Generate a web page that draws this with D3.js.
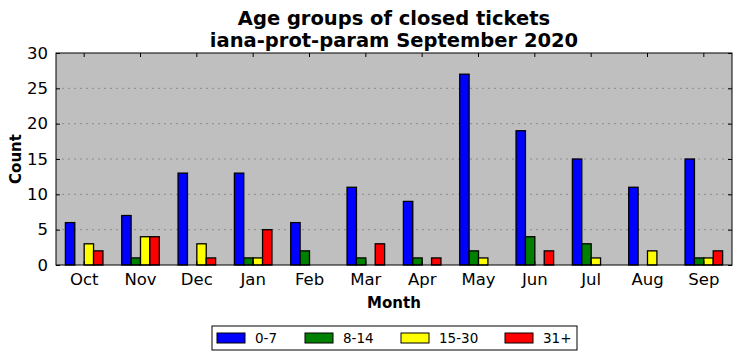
<!DOCTYPE html>
<html>
<head>
<meta charset="utf-8">
<script src="https://cdn.jsdelivr.net/npm/d3@7"></script>
<style>
body{margin:0;background:#fff;font-family:"DejaVu Sans",sans-serif;}
</style>
</head>
<body>
<script>
var months = ['Oct','Nov','Dec','Jan','Feb','Mar','Apr','May','Jun','Jul','Aug','Sep'];
var groups = ['0-7','8-14','15-30','31+'];
var colors = ['#0000ff','#008000','#ffff00','#ff0000'];
var age0_7   = [6,7,13,13,6,11,9,27,19,15,11,15];
var age8_14  = [0,1,0,1,2,1,1,2,4,3,0,1];
var age15_30 = [3,4,3,1,0,0,0,1,0,1,2,1];
var age31    = [2,4,1,5,0,3,1,0,2,0,0,2];
var series = [age0_7,age8_14,age15_30,age31];
var yTicks = [0,5,10,15,20,25,30];

var width = 742, height = 361,
	margin = {left:56,top:53,right:10,bottom:96},
	g_width = width - margin.left - margin.right,
	g_height = height - margin.top - margin.bottom;

var svg = d3.select('body').append('svg')
	.attr('width',width).attr('height',height);

// 标题
svg.append('text').attr('x',margin.left+g_width/2).attr('y',25)
	.attr('text-anchor','middle').attr('font-size','19.5px').attr('font-weight','bold')
	.text('Age groups of closed tickets');
svg.append('text').attr('x',margin.left+g_width/2).attr('y',47)
	.attr('text-anchor','middle').attr('font-size','19.5px').attr('font-weight','bold')
	.text('iana-prot-param September 2020');

var g = svg.append('g').attr('transform','translate('+margin.left+','+margin.top+')');

var scale_x = d3.scaleBand().domain(months).range([0,g_width]).padding(0);
var scale_y = d3.scaleLinear().domain([0,30]).range([g_height,0]);
var bw = scale_x.bandwidth()/6;

g.append('rect').attr('width',g_width).attr('height',g_height).attr('fill','#bfbfbf');

// 网格线
g.selectAll('.grid').data(yTicks.slice(1,-1)).enter().append('line')
	.attr('x1',0).attr('x2',g_width)
	.attr('y1',function(d){return scale_y(d);}).attr('y2',function(d){return scale_y(d);})
	.attr('stroke','#8c8c8c').attr('stroke-width',1).attr('stroke-dasharray','2,4');

// 柱子
series.forEach(function(vals,k){
	g.selectAll('.bar'+k).data(vals).enter().append('rect')
		.attr('x',function(d,i){return scale_x(months[i])+scale_x.bandwidth()/2+(k-2)*bw;})
		.attr('y',function(d){return scale_y(d);})
		.attr('width',bw)
		.attr('height',function(d){return g_height-scale_y(d);})
		.attr('fill',colors[k]).attr('stroke','#000').attr('stroke-width',1.3);
});

// 坐标轴
var x_axis = d3.axisBottom(scale_x).tickSizeInner(-4).tickSizeOuter(0).tickPadding(8);
var y_axis = d3.axisLeft(scale_y).tickValues(yTicks).tickSizeInner(-4).tickSizeOuter(0).tickPadding(8);
var gx = g.append('g').attr('transform','translate(0,'+g_height+')').call(x_axis);
var gy = g.append('g').call(y_axis);
var gx2 = g.append('g').call(d3.axisTop(scale_x).tickSizeInner(-4).tickSizeOuter(0).tickFormat(''));
var gy2 = g.append('g').attr('transform','translate('+g_width+',0)').call(d3.axisRight(scale_y).tickValues(yTicks).tickSizeInner(-4).tickSizeOuter(0).tickFormat(''));
[gx,gy,gx2,gy2].forEach(function(a){
	a.select('.domain').remove();
	a.selectAll('text').attr('font-size','16.5px').attr('font-family','DejaVu Sans').attr('fill','#000');
});
g.append('rect').attr('width',g_width).attr('height',g_height)
	.attr('fill','none').attr('stroke','#000').attr('stroke-width',1);

// 轴标题
svg.append('text').attr('x',margin.left+g_width/2).attr('y',308)
	.attr('text-anchor','middle').attr('font-size','15px').attr('font-weight','bold').text('Month');
svg.append('text').attr('transform','translate(21,'+(margin.top+g_height/2)+') rotate(-90)')
	.attr('text-anchor','middle').attr('font-size','15px').attr('font-weight','bold').text('Count');

// 图例
var lg = svg.append('g').attr('transform','translate(212,326)');
lg.append('rect').attr('width',365).attr('height',24).attr('fill','#fff').attr('stroke','#000').attr('stroke-width',1);
var lx = [5,93,189,293];
groups.forEach(function(name,k){
	lg.append('rect').attr('x',lx[k]).attr('y',7).attr('width',28).attr('height',10)
		.attr('fill',colors[k]).attr('stroke','#000').attr('stroke-width',1);
	lg.append('text').attr('x',lx[k]+38).attr('y',17).attr('font-size','13.5px').text(name);
});
</script>
</body>
</html>
